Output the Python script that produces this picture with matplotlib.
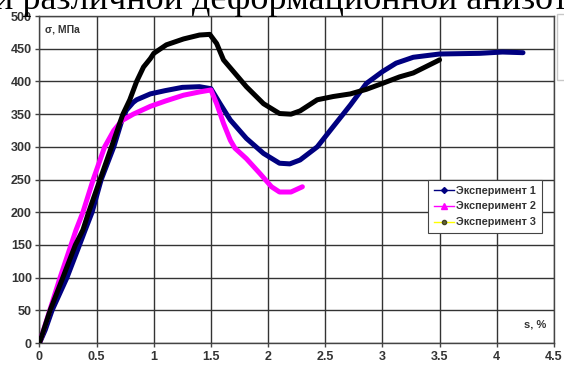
import matplotlib
matplotlib.use("Agg")
import matplotlib.pyplot as plt
from matplotlib.lines import Line2D
from matplotlib.patches import Rectangle

# Experiment 1 (navy)
x1 = [0, 0.05, 0.11, 0.24, 0.35, 0.40, 0.46, 0.54, 0.65, 0.72, 0.76, 0.82, 0.85, 0.97, 1.10, 1.25, 1.40, 1.50,
      1.58, 1.67, 1.81, 1.96, 2.10, 2.19, 2.28, 2.43, 2.57, 2.72, 2.86, 3.00, 3.12, 3.27, 3.50, 3.85, 4.05, 4.23]
y1 = [0, 20, 50, 100, 150, 173, 200, 250, 300, 340, 356, 368, 372, 381, 386, 391, 392, 389,
      366, 341, 313, 290, 275, 274, 280, 300, 331, 364, 397, 415, 428, 437, 442, 443, 445, 444]

# Experiment 2 (magenta)
x2 = [0, 0.09, 0.18, 0.276, 0.32, 0.38, 0.47, 0.57, 0.65, 0.72, 0.82, 0.97, 1.10, 1.26, 1.40, 1.50,
      1.55, 1.61, 1.67, 1.71, 1.81, 1.93, 2.03, 2.10, 2.20, 2.30]
y2 = [0, 50, 100, 150, 173, 200, 250, 300, 325, 340, 350, 362, 370, 379, 384, 387,
      366, 336, 310, 298, 282, 259, 239, 231, 231, 239]

# Experiment 3 (black)
x3 = [0, 0.093, 0.204, 0.314, 0.38, 0.43, 0.53, 0.63, 0.73, 0.79, 0.85, 0.91, 0.97, 1.00, 1.11, 1.26, 1.40, 1.49,
      1.55, 1.61, 1.81, 1.96, 2.10, 2.20, 2.28, 2.43, 2.57, 2.72, 2.86, 3.00, 3.15, 3.27, 3.50]
y3 = [0, 50, 100, 150, 173, 200, 250, 300, 350, 372, 400, 422, 435, 443, 456, 465, 471, 472,
      458, 433, 392, 366, 351, 350, 355, 372, 377, 381, 388, 397, 407, 413, 433]

series_names = ["Эксперимент 1", "Эксперимент 2", "Эксперимент 3"]
xticks = [0, 0.5, 1, 1.5, 2, 2.5, 3, 3.5, 4, 4.5]
xticklabels = ["0", "0.5", "1", "1.5", "2", "2.5", "3", "3.5", "4", "4.5"]
yticks = [0, 50, 100, 150, 200, 250, 300, 350, 400, 450, 500]

fig = plt.figure(figsize=(5.64, 3.65), dpi=100)
ax = fig.add_axes([0.070, 0.060, 0.912, 0.896])

ax.plot(x1, y1, color="#000080", lw=3.6, solid_capstyle="round", solid_joinstyle="round", zorder=3)
ax.plot(x2, y2, color="#ff00ff", lw=3.6, solid_capstyle="round", solid_joinstyle="round", zorder=4)
ax.plot(x3, y3, color="#000000", lw=3.6, solid_capstyle="round", solid_joinstyle="round", zorder=5)

ax.set_xlim(0, 4.5)
ax.set_ylim(0, 500)
ax.set_xticks(xticks)
ax.set_xticklabels(xticklabels)
ax.set_yticks(yticks)
ax.grid(True, color="#333333", lw=1.0)
ax.set_axisbelow(True)
for s in ax.spines.values():
    s.set_color("#444444")
    s.set_linewidth(1.0)
ax.tick_params(axis="both", length=3, width=1, color="#444444", labelsize=9, labelcolor="#333333", pad=2.5)
for lab in ax.get_xticklabels() + ax.get_yticklabels():
    lab.set_fontweight("bold")
    lab.set_family("Liberation Sans")

ax.text(0.20, 479, "σ, МПа", fontsize=7.5, fontweight="bold", color="#333333", family="Liberation Sans",
        ha="center", va="center")
ax.text(4.34, 28, "s, %", fontsize=8, fontweight="bold", color="#333333", family="Liberation Sans",
        ha="center", va="center")

handles = [
    Line2D([], [], color="#000080", lw=1, marker="D", markersize=3),
    Line2D([], [], color="#ff00ff", lw=1, marker="^", markersize=4),
    Line2D([], [], color="#ffff00", lw=1, marker="o", markersize=3, markerfacecolor="#666633", markeredgecolor="#444422"),
]
leg = ax.legend(handles, series_names, loc="upper left", bbox_to_anchor=(0.745, 0.515),
                prop={"family": "Liberation Sans", "weight": "bold", "size": 7.8},
                frameon=True, fancybox=False, edgecolor="#444444", framealpha=1,
                handlelength=1.9, handletextpad=0.2, labelspacing=0.55, borderpad=0.5)
leg.get_frame().set_linewidth(0.8)
for t in leg.get_texts():
    t.set_color("#333333")

fig.text(-0.011, 0.975, "и различной деформационной анизотропией", fontsize=26, family="Liberation Serif",
         ha="left", va="baseline", color="black")

# partially visible panel at the right edge
fig.patches.append(Rectangle((557 / 564, 1 - 80 / 365), 10 / 564, 66 / 365, transform=fig.transFigure,
                             facecolor="none", edgecolor="#c8c8c8", lw=1))

fig.savefig("out.png", dpi=100)
